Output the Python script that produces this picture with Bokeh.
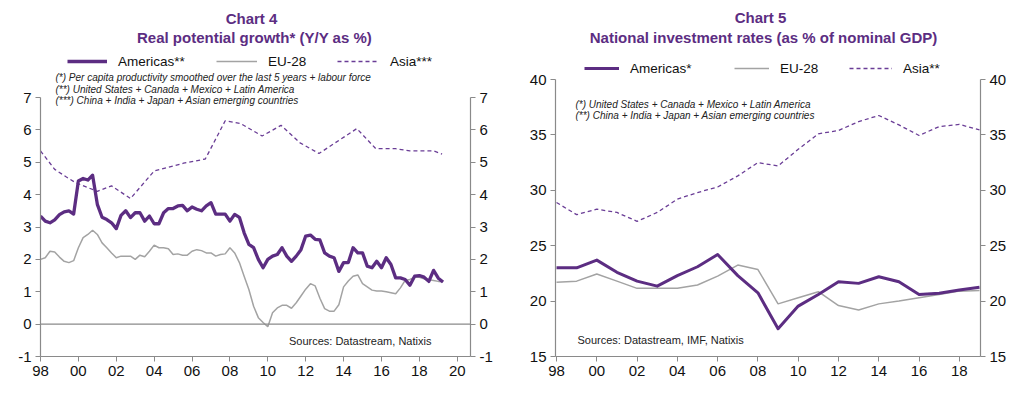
import pandas as pd
from bokeh.plotting import figure
from bokeh.models import Label, Legend, LegendItem, LinearAxis, FixedTicker, Span, Range1d
from bokeh.layouts import row
from bokeh.embed import file_html
from bokeh.resources import INLINE

PURPLE = "#5c2d82"
ASIA_PURPLE = "#6a3d96"
GRAY = "#a3a3a3"
AXIS = "#8a8a8a"
FONT = "Liberation Sans"

# ---------------- Chart 4 data (quarterly, from 1998Q1) ----------------
c4_start = "1998Q1"
c4_americas = [3.34, 3.18, 3.13, 3.22, 3.38, 3.47, 3.50, 3.40, 4.42, 4.50,
               4.45, 4.60, 3.70, 3.30, 3.23, 3.13, 2.95, 3.36, 3.50, 3.29,
               3.44, 3.44, 3.18, 3.34, 3.10, 3.10, 3.44, 3.57, 3.57, 3.65,
               3.67, 3.50, 3.62, 3.55, 3.50, 3.65, 3.75, 3.40, 3.40, 3.40,
               3.18, 3.39, 3.30, 2.82, 2.46, 2.36, 2.00, 1.74, 2.00, 2.10,
               2.15, 2.36, 2.10, 1.94, 2.10, 2.30, 2.72, 2.75, 2.62, 2.60,
               2.20, 2.10, 2.05, 1.63, 1.90, 1.90, 2.36, 2.20, 2.20, 1.79,
               1.74, 1.94, 1.74, 2.05, 1.84, 1.43, 1.43, 1.38, 1.20, 1.48,
               1.50, 1.45, 1.32, 1.66, 1.42, 1.30]
c4_eu28 = [2.00, 2.05, 2.25, 2.23, 2.07, 1.94, 1.90, 1.96, 2.36, 2.67,
           2.77, 2.90, 2.77, 2.51, 2.36, 2.20, 2.05, 2.10, 2.10, 2.10,
           2.00, 2.13, 2.08, 2.25, 2.44, 2.36, 2.36, 2.33, 2.15, 2.17,
           2.13, 2.13, 2.25, 2.30, 2.27, 2.20, 2.20, 2.10, 2.15, 2.17,
           2.36, 2.20, 1.90, 1.48, 1.07, 0.55, 0.20, 0.05, -0.08, 0.35,
           0.50, 0.58, 0.58, 0.49, 0.66, 0.87, 1.08, 1.25, 1.18, 0.80,
           0.48, 0.40, 0.40, 0.60, 1.15, 1.33, 1.48, 1.52, 1.25, 1.15,
           1.05, 1.02, 1.02, 1.00, 0.97, 0.94, 1.12, 1.35, 1.38, 1.45,
           1.45, 1.40, 1.37, 1.35, 1.32, 1.31]
c4_asia_dates = [1998.0, 1998.75, 1999.35, 1999.85, 2001.0, 2001.75, 2002.75,
                 2004.0, 2005.55, 2006.7, 2007.75, 2008.55, 2009.7, 2010.7,
                 2011.7, 2012.7, 2014.7, 2015.7, 2016.75, 2017.5, 2018.75, 2019.2]
c4_asia = [5.35, 4.78, 4.55, 4.37, 4.10, 4.27, 3.88,
           4.73, 4.97, 5.10, 6.28, 6.20, 5.81, 6.14,
           5.60, 5.27, 6.04, 5.42, 5.42, 5.35, 5.35, 5.25]
c4_xticks = [1998, 2000, 2002, 2004, 2006, 2008, 2010, 2012, 2014, 2016, 2018, 2020]
c4_xlabels = ["98", "00", "02", "04", "06", "08", "10", "12", "14", "16", "18", "20"]
c4_yticks = [-1, 0, 1, 2, 3, 4, 5, 6, 7]
c4_ylabels = ["-1", "0", "1", "2", "3", "4", "5", "6", "7"]
c4_zero = 0

# ---------------- Chart 5 data (annual) ----------------
c5_years = list(range(1998, 2020))
c5_americas = [23.0, 23.0, 23.7, 22.6, 21.8, 21.35, 22.3, 23.1, 24.2, 22.3, 20.75,
               17.5, 19.55, 20.6, 21.75, 21.6, 22.2, 21.75, 20.6, 20.7, 21.0, 21.25]
c5_eu28 = [21.7, 21.8, 22.45, 21.8, 21.15, 21.15, 21.15, 21.45, 22.25, 23.25, 22.85,
           19.75, 20.3, 20.85, 19.6, 19.2, 19.75, 20.0, 20.3, 20.6, 20.9, 20.95]
c5_asia = [28.9, 27.8, 28.3, 28.0, 27.2, 28.0, 29.2, 29.8, 30.3, 31.3, 32.5,
           32.2, 33.7, 35.1, 35.4, 36.2, 36.75, 35.9, 34.95, 35.75, 35.95, 35.45]
c5_xticks = [1998, 2000, 2002, 2004, 2006, 2008, 2010, 2012, 2014, 2016, 2018]
c5_xlabels = ["98", "00", "02", "04", "06", "08", "10", "12", "14", "16", "18"]
c5_yticks = [15, 20, 25, 30, 35, 40]
c5_ylabels = ["15", "20", "25", "30", "35", "40"]

q = pd.period_range(c4_start, periods=len(c4_americas), freq="Q")
c4_x = [p.year + (p.quarter - 1) / 4 for p in q]


def style_axis(ax, ticks, labels, bounds=None):
    ax.ticker = FixedTicker(ticks=ticks)
    ax.major_label_overrides = {t: l for t, l in zip(ticks, labels)}
    if bounds:
        ax.bounds = bounds
    ax.axis_line_color = AXIS
    ax.axis_line_width = 1.2
    ax.major_tick_line_color = AXIS
    ax.major_tick_in = 0
    ax.major_tick_out = 5
    ax.minor_tick_line_color = None
    ax.major_label_text_font = FONT
    ax.major_label_text_font_size = "15px"
    ax.major_label_text_color = "#111111"
    ax.major_label_standoff = 4


def make_fig(W, H, bl, br, bb, xr, ylo, yhi, frame_top, yticks, ylabels, xticks, xlabels):
    # frame reaches the top of the canvas so that headers can be drawn inside it;
    # the axes are bounded to the real value range
    unit = (H - bb - frame_top) / (yhi - ylo)
    ytop = yhi + frame_top / unit
    p = figure(width=W, height=H, x_range=Range1d(*xr), y_range=Range1d(ylo, ytop),
               output_backend="svg", toolbar_location=None,
               min_border_left=bl, min_border_right=br,
               min_border_top=0, min_border_bottom=bb)
    p.outline_line_color = None
    p.grid.visible = False
    p.background_fill_color = "white"
    p.border_fill_color = "white"
    style_axis(p.yaxis[0], yticks, ylabels, bounds=(ylo, yhi))
    style_axis(p.xaxis[0], xticks, xlabels)
    right = LinearAxis()
    style_axis(right, yticks, ylabels, bounds=(ylo, yhi))
    p.add_layout(right, "right")
    p._geom = (W, H, bl, bb)
    return p


def lab(p, cx, cy, text, size, style="normal", align="left", color="#222222"):
    W, H, bl, bb = p._geom
    p.add_layout(Label(x=cx - bl, y=(H - bb) - cy, x_units="screen", y_units="screen",
                       text=text, text_font=FONT, text_font_size=size,
                       text_font_style=style, text_align=align,
                       text_baseline="middle", text_color=color))


def leg(p, cx, cy, label, r, gw):
    W, H, bl, bb = p._geom
    h = 16
    L = Legend(items=[LegendItem(label=label, renderers=[r])],
               location=(cx - bl, (H - bb) - cy - h / 2), orientation="horizontal",
               glyph_width=gw, glyph_height=h, label_height=h, label_standoff=11,
               padding=0, margin=0, spacing=0, border_line_color=None,
               background_fill_alpha=0,
               label_text_font=FONT, label_text_font_size="13.5px",
               label_text_color="#111111")
    p.add_layout(L, "center")


W, H = 512, 395

# ---------------- Chart 4 ----------------
p4 = make_fig(W, H, 40, 42, 39, (1998.0, 2020.7), -1, 7, 97,
              c4_yticks, c4_ylabels, c4_xticks, c4_xlabels)
p4.add_layout(Span(location=c4_zero, dimension="width", line_color=AXIS, line_width=1.2))
r4e = p4.line(c4_x, c4_eu28, line_color=GRAY, line_width=1.5)
r4a = p4.line(c4_asia_dates, c4_asia, line_color=ASIA_PURPLE, line_width=1.3, line_dash="4 3")
r4m = p4.line(c4_x, c4_americas, line_color=PURPLE, line_width=3.3, line_join="round")

lab(p4, 251, 18, "Chart 4", "15px", "bold", "center", PURPLE)
lab(p4, 254, 37, "Real potential growth* (Y/Y as %)", "15px", "bold", "center", PURPLE)
leg(p4, 67, 61, "Americas**", r4m, 40)
leg(p4, 216, 61, "EU-28", r4e, 41)
leg(p4, 337, 61, "Asia***", r4a, 42)
lab(p4, 55, 77, "(*) Per capita productivity smoothed over the last 5 years + labour force", "10px", "italic")
lab(p4, 55, 89, "(**) United States + Canada + Mexico + Latin America", "10px", "italic")
lab(p4, 55, 100, "(***) China + India + Japan + Asian emerging countries", "10px", "italic")
lab(p4, 437, 340, "Sources:  Datastream,  Natixis", "11px", "normal", "right")

# ---------------- Chart 5 ----------------
p5 = make_fig(W, H, 43, 44, 39, (1997.95, 2019.05), 15, 40, 79,
              c5_yticks, c5_ylabels, c5_xticks, c5_xlabels)
r5e = p5.line(c5_years, c5_eu28, line_color=GRAY, line_width=1.5)
r5a = p5.line(c5_years, c5_asia, line_color=ASIA_PURPLE, line_width=1.3, line_dash="4 3")
r5m = p5.line(c5_years, c5_americas, line_color=PURPLE, line_width=3.0, line_join="round")

lab(p5, 248, 17, "Chart 5", "15px", "bold", "center", PURPLE)
lab(p5, 251, 37, "National investment rates (as % of nominal GDP)", "15px", "bold", "center", PURPLE)
leg(p5, 72, 68, "Americas*", r5m, 35)
leg(p5, 222, 68, "EU-28", r5e, 35)
leg(p5, 337, 68, "Asia**", r5a, 43)
lab(p5, 63, 104, "(*) United States + Canada + Mexico + Latin America", "10px", "italic")
lab(p5, 63, 115, "(**) China + India + Japan + Asian emerging countries", "10px", "italic")
lab(p5, 65, 339, "Sources:  Datastream,  IMF, Natixis", "11px", "normal", "left")

layout = row(p4, p5)
open("out.html", "w").write(file_html(layout, INLINE, "Charts"))
